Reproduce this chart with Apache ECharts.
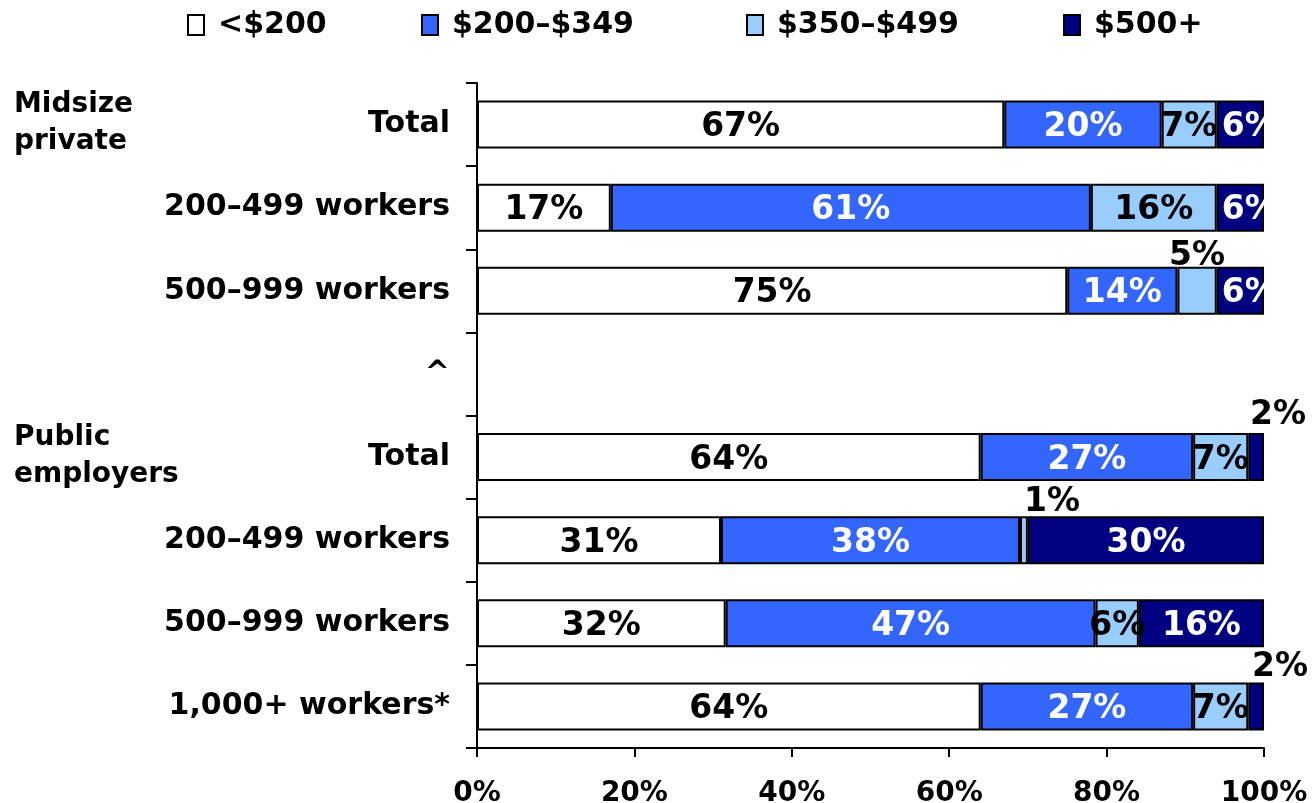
<!DOCTYPE html>
<html>
<head>
<meta charset="utf-8">
<script src="https://cdn.jsdelivr.net/npm/echarts@6/dist/echarts.min.js"></script>
<style>
html,body{margin:0;padding:0;background:#fff;}
#chart{width:1316px;height:803px;}
</style>
</head>
<body>
<div id="chart"></div>
<script>
// ---- data ----
const categories = ["Total", "200–499 workers", "500–999 workers", "^", "Total", "200–499 workers", "500–999 workers", "1,000+ workers*"];
const seriesNames = ["<$200", "$200–$349", "$350–$499", "$500+"];
const under200 = [67, 17, 75, null, 64, 31, 31.6, 64];
const from200to349 = [20, 61, 14, null, 27, 38, 47, 27];
const from350to499 = [7, 16, 5, null, 7, 1, 5.5, 7];
const over500 = [6, 6, 6, null, 2, 30, 15.9, 2];
const xTicks = [0, 20, 40, 60, 80, 100];
const groupLabels = [{ text: "Midsize\nprivate", row: 0 }, { text: "Public\nemployers", row: 4 }];

// ---- style ----
const FONT = "DejaVu Sans";
const colors = ["#FFFFFF", "#3366FF", "#99CCFF", "#000080"];
const labelColors = ["#000", "#fff", "#000", "#fff"];
const values = [under200, from200to349, from350to499, over500];

// label placement overrides: [seriesIndex, rowIndex] -> label options
const labelOverrides = {
  "2_2": { position: "top", distance: -6, offset: [0, 0], color: "#000" },
  "2_5": { position: "top", distance: -3, offset: [28, 0], color: "#000" },
  "3_4": { position: "top", distance: 1, offset: [22, 0], color: "#000" },
  "3_7": { position: "top", distance: -1, offset: [24, 0], color: "#000" },
  "3_0": { position: "insideLeft", distance: 5 },
  "3_1": { position: "insideLeft", distance: 5 },
  "3_2": { position: "insideLeft", distance: 5 }
};

const fmt = p => (p.value == null ? "" : Math.round(p.value) + "%");

const series = values.map((arr, si) => ({
  name: seriesNames[si],
  type: "bar",
  stack: "total",
  barWidth: 48,
  itemStyle: { color: colors[si], borderColor: "#000", borderWidth: 2 },
  label: {
    show: true,
    position: "inside",
    offset: [0, 3],
    formatter: fmt,
    color: labelColors[si],
    fontFamily: FONT,
    fontWeight: "bold",
    fontSize: 33
  },
  data: arr.map((v, ri) => {
    const o = labelOverrides[si + "_" + ri];
    return o ? { value: v, label: o } : v;
  })
}));

const legendLefts = [182, 416, 741, 1058];
const legends = seriesNames.map((n, i) => ({
  data: [n],
  left: legendLefts[i],
  top: 5,
  icon: "rect",
  itemWidth: 16,
  itemHeight: 20,
  itemStyle: { borderColor: "#000", borderWidth: 2 },
  textStyle: { fontFamily: FONT, fontWeight: "bold", fontSize: 30, color: "#000", padding: [0, 0, 0, 9] },
  selectedMode: false
}));

const chart = echarts.init(document.getElementById("chart"));
chart.setOption({
  backgroundColor: "#fff",
  animation: false,
  legend: legends,
  grid: { left: 477, right: 52, top: 83, bottom: 55, containLabel: false, outerBoundsMode: "none" },
  xAxis: {
    type: "value",
    min: xTicks[0],
    max: xTicks[xTicks.length - 1],
    interval: 20,
    splitLine: { show: false },
    axisLine: { show: true, lineStyle: { color: "#000", width: 2 } },
    axisTick: { show: true, length: 9, lineStyle: { color: "#000", width: 2 } },
    axisLabel: { formatter: "{value}%", fontFamily: FONT, fontWeight: "bold", fontSize: 28, color: "#000", margin: 32 }
  },
  yAxis: {
    type: "category",
    inverse: true,
    data: categories,
    axisLine: { show: true, lineStyle: { color: "#000", width: 2 } },
    axisTick: { show: true, length: 11, lineStyle: { color: "#000", width: 2 } },
    axisLabel: { fontFamily: FONT, fontWeight: "bold", fontSize: 30, color: "#000", margin: 27 }
  },
  series: series
});

// group labels and right-edge clipping mask, positioned through the axes
const xRight = chart.convertToPixel({ xAxisIndex: 0 }, 100);
const graphics = groupLabels.map(g => ({
  type: "text",
  left: 14,
  top: chart.convertToPixel({ yAxisIndex: 0 }, g.row) - 38,
  style: { text: g.text, fontFamily: FONT, fontWeight: "bold", fontSize: 28, fill: "#000", lineHeight: 37 }
}));
[0, 1, 2].forEach(r => {
  const yc = chart.convertToPixel({ yAxisIndex: 0 }, r);
  graphics.push({
    type: "rect",
    z: 100,
    shape: { x: xRight + 1.5, y: yc - 30, width: 1316 - xRight, height: 60 },
    style: { fill: "#fff" }
  });
});
chart.setOption({ graphic: graphics });
</script>
</body>
</html>
